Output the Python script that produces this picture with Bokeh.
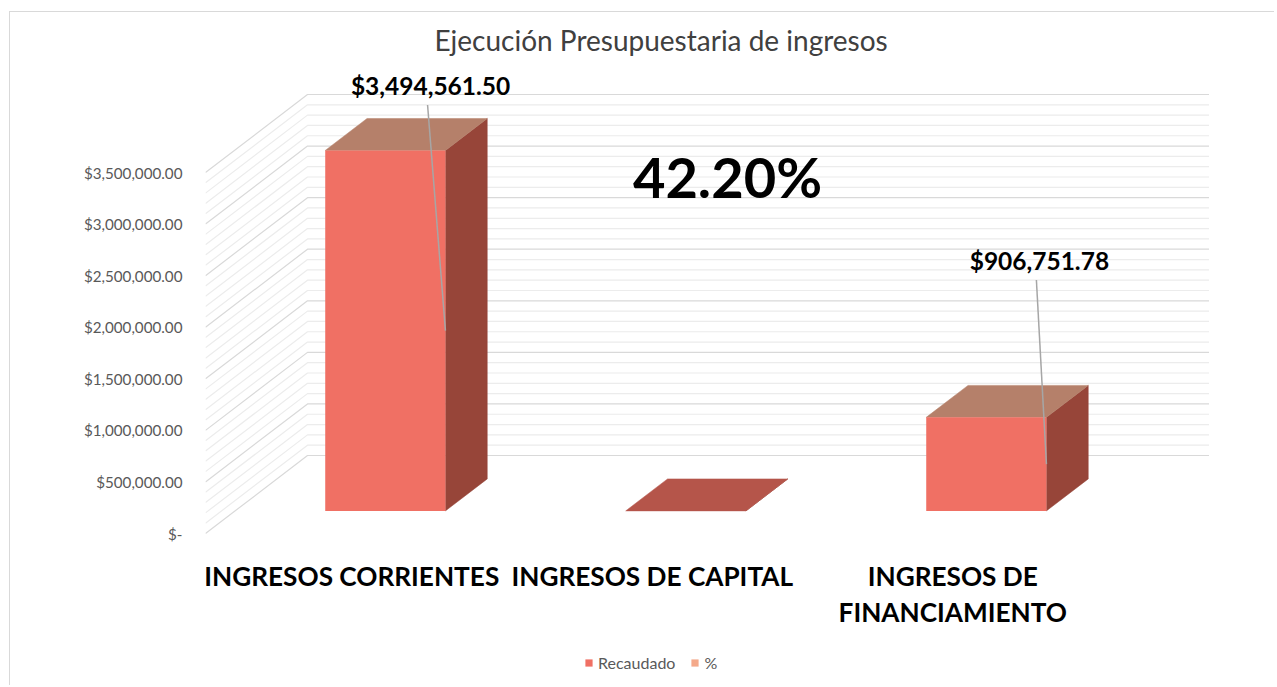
from bokeh.plotting import figure
from bokeh.models import (Range1d, FixedTicker, NumeralTickFormatter, Legend,
                          LegendItem, Title, ColumnDataSource)
from bokeh.core.properties import value
from bokeh.embed import file_html
from bokeh.resources import INLINE

# ---------------- data ----------------
title_text = "Ejecución Presupuestaria de ingresos"
categories = ["INGRESOS CORRIENTES", "INGRESOS DE CAPITAL", "INGRESOS DE\nFINANCIAMIENTO"]
recaudado = [3494561.50, 0.0, 906751.78]
pct_recaudado = 42.20
series_names = ["Recaudado", "%"]
y_ticks = [0, 500000, 1000000, 1500000, 2000000, 2500000, 3000000, 3500000]
y_tick_overrides = {0: "$-"}
minor_step = 100000

# ---------------- layout / style ----------------
W, H = 1265, 674
ML, MR, MT, MB = 195, 64, 48, 11
FW = W - ML - MR
FH = H - MT - MB
PX_PER_CAT = 300.5
PX_PER_VAL = 51.57 / 500000
ZERO_FROM_BOTTOM = 142
DX = 102 / PX_PER_CAT          # depth shift in category units
DY = 78 / PX_PER_VAL           # depth shift in value units
Z0, Z1 = 0.29, 0.70            # bar front / back depth
HALF_W = 0.2
X_START = -0.5
N = len(categories)

FONT = value("Lato")
FRONT = "#F07064"
TOP = "#B5806A"
SIDE = "#974539"
ZERO_TOP = "#B5554A"
PCT_COLOR = "#F4A98A"
MAJOR = "#d9d9d9"
MINOR = "#ececec"

# per-label placement relative to bar (category units, value units)
label_dx = [0.249, 0.0, 0.275]
label_dy = [849000, 0, 1740000]
pct_pos = (1.237, 3461000)

p = figure(width=W, height=H,
           x_range=Range1d(X_START, X_START + FW / PX_PER_CAT),
           y_range=Range1d(-ZERO_FROM_BOTTOM / PX_PER_VAL, (FH - ZERO_FROM_BOTTOM) / PX_PER_VAL),
           output_backend="svg", toolbar_location=None,
           x_axis_location=None, y_axis_location="left",
           min_border_left=ML, min_border_right=MR, min_border_top=MT, min_border_bottom=MB)
p.grid.visible = False
p.outline_line_color = None
p.background_fill_color = "white"
p.border_fill_color = "white"
p.styles = {"margin-left": "9px", "margin-top": "11px",
            "border-left": "1px solid #d9d9d9", "border-top": "1px solid #d9d9d9"}

p.add_layout(Title(text=title_text, text_font="Lato", text_font_size="28px",
                   text_font_style="normal", text_color="#404040",
                   align="left", offset=229, standoff=8), "above")

# y axis (front edge of the side wall)
ax = p.yaxis[0]
ax.ticker = FixedTicker(ticks=y_ticks, minor_ticks=[])
ax.formatter = NumeralTickFormatter(format="$0,0.00")
ax.major_label_overrides = y_tick_overrides
ax.major_label_text_font = "Lato"
ax.major_label_text_font_size = "15.2px"
ax.major_label_text_color = "#595959"
ax.axis_line_color = None
ax.major_tick_line_color = None
ax.minor_tick_line_color = None
ax.major_label_standoff = 17

# walls: side wall diagonal + back wall horizontal
x_back_l = X_START + DX
x_back_r = X_START + N + DX
for kind, color in (("minor", MINOR), ("major", MAJOR)):
    xs, ys = [], []
    v = 0
    while v <= y_ticks[-1]:
        is_major = (v % (y_ticks[1] - y_ticks[0]) == 0)
        if (kind == "major") == is_major:
            xs.append([X_START, x_back_l, x_back_r])
            ys.append([v, v + DY, v + DY])
        v += minor_step
    p.multi_line(xs, ys, line_color=color, line_width=1.2)

# bars (3D boxes)
cx = list(range(N))
front_l = [c - HALF_W + DX * Z0 for c in cx]
front_r = [c + HALF_W + DX * Z0 for c in cx]
base0 = DY * Z0
base1 = DY * Z1

side_xs, side_ys, top_xs, top_ys, top_cols = [], [], [], [], []
for i, v in enumerate(recaudado):
    side_xs.append([front_r[i], front_r[i], cx[i] + HALF_W + DX * Z1, cx[i] + HALF_W + DX * Z1])
    side_ys.append([base0, v + base0, v + base1, base1])
    top_xs.append([front_l[i], front_r[i], cx[i] + HALF_W + DX * Z1, cx[i] - HALF_W + DX * Z1])
    top_ys.append([v + base0, v + base0, v + base1, v + base1])
    top_cols.append(TOP if v > 0 else ZERO_TOP)

p.patches(side_xs, side_ys, fill_color=SIDE, line_color=SIDE, line_width=0.5)
p.patches(top_xs, top_ys, fill_color=top_cols, line_color=top_cols, line_width=0.5)
front_src = ColumnDataSource(dict(left=front_l, right=front_r,
                                  bottom=[base0] * N, top=[v + base0 for v in recaudado]))
front_rend = p.quad(left="left", right="right", bottom="bottom", top="top", source=front_src,
                    fill_color=FRONT, line_color=None)
# "%" series: drawn with zero height (its value is a ratio, shown only as a label)
pct_rend = p.quad(left=[cx[1]], right=[cx[1]], bottom=[base0], top=[base0],
                  fill_color=PCT_COLOR, line_color=None)

# data labels with leader lines
lx, ly, lt, sx0, sy0, sx1, sy1 = [], [], [], [], [], [], []
for i, v in enumerate(recaudado):
    if v <= 0:
        continue
    x_lab = cx[i] + label_dx[i]
    y_lab = v + label_dy[i]
    lx.append(x_lab)
    ly.append(y_lab)
    lt.append("${:,.2f}".format(v))
    sx0.append(x_lab - 3 / PX_PER_CAT)
    sy0.append(y_lab - 19.5 / PX_PER_VAL)
    sx1.append(front_r[i])
    sy1.append(v / 2 + base0)

p.segment(sx0, sy0, sx1, sy1, line_color="#a6a6a6", line_width=1.5)
p.text(lx, ly, text=lt, text_font=FONT, text_font_size="24.5px", text_font_style="bold",
       text_align="center", text_baseline="middle", text_color="black")

p.text([pct_pos[0]], [pct_pos[1]], text=["{:.2f}%".format(pct_recaudado)], text_font=FONT,
       text_font_size="56px", text_font_style="bold", text_align="center",
       text_baseline="middle", text_color="black")

# category labels at front edge of the floor
p.text(cx, [0] * N, text=categories, text_font=FONT, text_font_size="26.2px",
       text_font_style="bold", text_align="center", text_baseline="top",
       text_color="black", x_offset=-4, y_offset=26, text_line_height=1.15)

legend = Legend(items=[LegendItem(label=series_names[0], renderers=[front_rend]),
                       LegendItem(label=series_names[1], renderers=[pct_rend])],
                location=(379, 3), orientation="horizontal",
                glyph_width=9, glyph_height=9, label_standoff=5, spacing=15,
                padding=0, margin=0, border_line_color=None,
                background_fill_alpha=0,
                label_text_font="Lato", label_text_font_size="16px",
                label_text_color="#595959")
p.add_layout(legend)

open("out.html", "w").write(file_html(p, INLINE))
